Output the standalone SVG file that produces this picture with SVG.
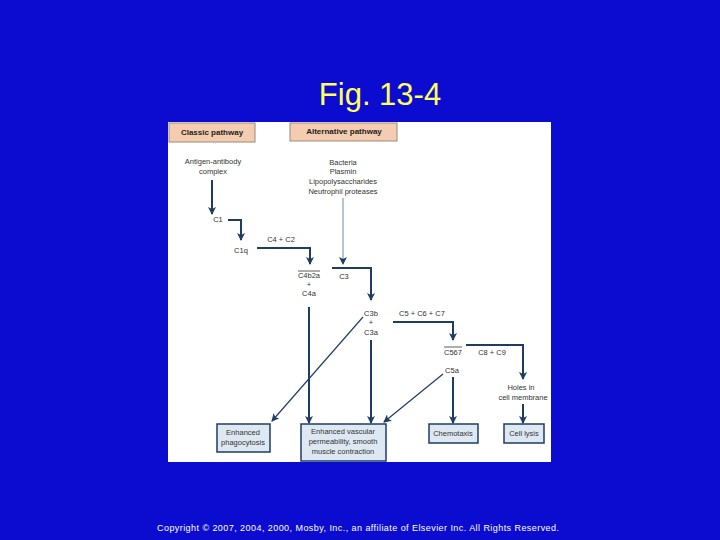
<svg xmlns="http://www.w3.org/2000/svg" width="720" height="540" viewBox="0 0 720 540">
<style>
.t{font-family:"Liberation Sans",Arial,sans-serif;font-size:7.5px;fill:#333;text-anchor:middle}
.hb{font-family:"Liberation Sans",Arial,sans-serif;font-size:8px;font-weight:bold;fill:#222;text-anchor:middle}
.pe{fill:#f4cdb0;stroke:#9a8878;stroke-width:1}
.bx{fill:#dde8f2;stroke:#1f3c63;stroke-width:1.5}
.ln{fill:none;stroke:#1f3c63;stroke-width:2;marker-end:url(#ah)}
.th{fill:none;stroke:#1f3c63;stroke-width:1.2;marker-end:url(#ah)}
.lt{fill:none;stroke:#6a8cb0;stroke-width:1;marker-end:url(#ah2)}
</style>
<defs>
<marker id="ah" markerWidth="8" markerHeight="8" refX="7" refY="4" orient="auto" markerUnits="userSpaceOnUse">
<path d="M0,0 L8,4 L0,8 L2,4 Z" fill="#1f3c63"/>
</marker>
<marker id="ah2" markerWidth="8" markerHeight="8" refX="7" refY="4" orient="auto" markerUnits="userSpaceOnUse">
<path d="M0,0 L8,4 L0,8 L2,4 Z" fill="#1f3c63"/>
</marker>
</defs>
<rect width="720" height="540" fill="#0c0cd0"/>
<text x="380" y="105" font-family="'Liberation Sans',Arial,sans-serif" font-size="31" fill="#ffff5a" text-anchor="middle">Fig. 13-4</text>
<rect x="168" y="122" width="383" height="340" fill="#ffffff"/>
<g id="connectors">
<path class="ln" d="M212,180 V214"/>
<path class="ln" d="M228,220 H241 V240"/>
<path class="ln" d="M257,248 H310 V264"/>
<path class="lt" d="M343,198 V264"/>
<path class="ln" d="M332,268 H371 V300"/>
<path class="ln" d="M309,307 V423"/>
<path class="th" d="M363,317 L272,421"/>
<path class="ln" d="M371,340 V423"/>
<path class="ln" d="M393,322 H453 V340"/>
<path class="ln" d="M466,345 H523 V379"/>
<path class="th" d="M443,374 L384,422"/>
<path class="ln" d="M453,377 V423"/>
<path class="ln" d="M523,404 V423"/>
</g>
<g id="classic"><rect class="pe" x="169" y="123" width="86" height="19"/><text class="hb" x="212" y="135">Classic pathway</text></g>
<g id="alternative"><rect class="pe" x="290" y="123" width="107" height="18"/><text class="hb" x="344" y="134">Alternative pathway</text></g>
<g id="antigen"><text class="t" x="213" y="164">Antigen-antibody</text><text class="t" x="213" y="174">complex</text></g>
<g id="triggers"><text class="t" x="343" y="165">Bacteria</text><text class="t" x="343" y="174">Plasmin</text><text class="t" x="343" y="184">Lipopolysaccharides</text><text class="t" x="343" y="194">Neutrophil proteases</text></g>
<g id="c1"><text class="t" x="218" y="222">C1</text></g>
<g id="c1q"><text class="t" x="241" y="253">C1q</text></g>
<g id="c4c2"><text class="t" x="281" y="242">C4 + C2</text></g>
<g id="c4b2a"><text class="t" x="309" y="278">C4b2a</text><line x1="298" y1="271" x2="320" y2="271" stroke="#333" stroke-width="0.8"/><text class="t" x="309" y="287">+</text><text class="t" x="309" y="296">C4a</text></g>
<g id="c3"><text class="t" x="344" y="279">C3</text></g>
<g id="c3b"><text class="t" x="371" y="316">C3b</text><text class="t" x="371" y="325">+</text><text class="t" x="371" y="335">C3a</text></g>
<g id="c5c6c7"><text class="t" x="422" y="316">C5 + C6 + C7</text></g>
<g id="c567"><text class="t" x="453" y="355">C567</text><line x1="444" y1="347" x2="462" y2="347" stroke="#333" stroke-width="0.8"/></g>
<g id="c8c9"><text class="t" x="492" y="355">C8 + C9</text></g>
<g id="c5a"><text class="t" x="452" y="373">C5a</text></g>
<g id="holes"><text class="t" x="521" y="390">Holes in</text><text class="t" x="523" y="400">cell membrane</text></g>
<g id="phago"><rect class="bx" x="217" y="424" width="53" height="28"/><text class="t" x="243" y="435">Enhanced</text><text class="t" x="243" y="445">phagocytosis</text></g>
<g id="vasc"><rect class="bx" x="301" y="424" width="85" height="37"/><text class="t" x="343" y="434">Enhanced vascular</text><text class="t" x="343" y="444">permeability, smooth</text><text class="t" x="343" y="454">muscle contraction</text></g>
<g id="chemo"><rect class="bx" x="429" y="424" width="49" height="19"/><text class="t" x="453" y="436">Chemotaxis</text></g>
<g id="lysis"><rect class="bx" x="504" y="424" width="40" height="19"/><text class="t" x="524" y="436">Cell lysis</text></g>
<rect x="551" y="122" width="10" height="340" fill="#0c0cd0"/>
<text x="358" y="531" font-family="'Liberation Sans',Arial,sans-serif" font-size="9" fill="#ffffff" text-anchor="middle" textLength="402" lengthAdjust="spacing">Copyright © 2007, 2004, 2000, Mosby, Inc., an affiliate of Elsevier Inc. All Rights Reserved.</text>
</svg>
